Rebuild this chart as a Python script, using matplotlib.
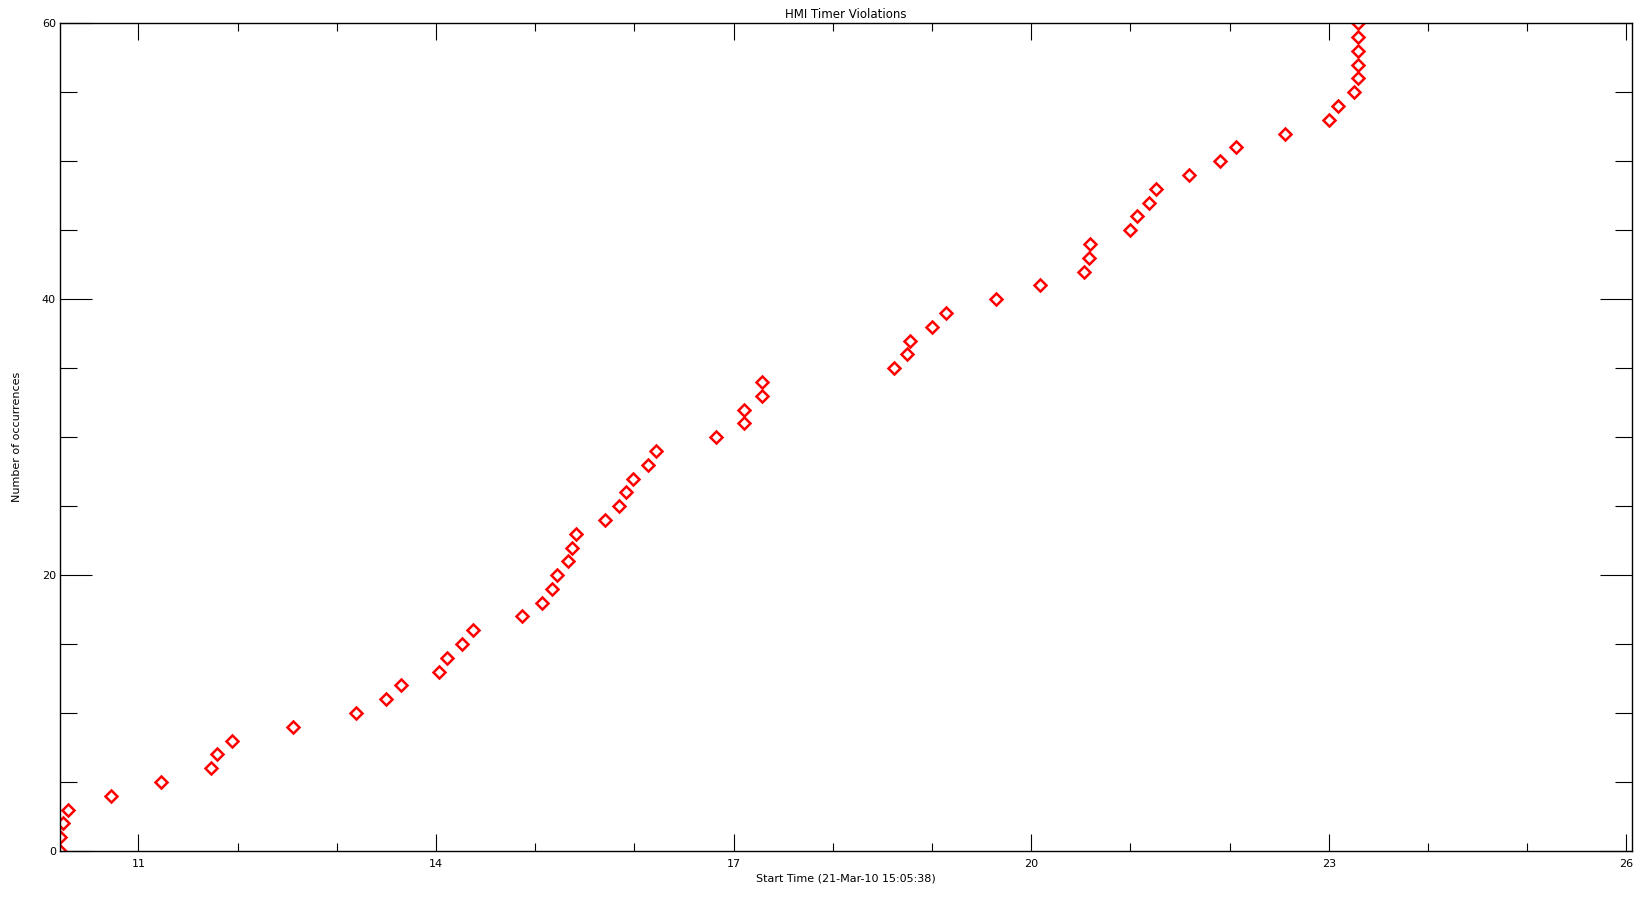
import matplotlib
matplotlib.use("Agg")
import matplotlib.pyplot as plt
from matplotlib.ticker import MultipleLocator

# start times (hours) of each timer violation
start_hours = [10.21, 10.21, 10.24, 10.29, 10.72, 11.23, 11.73, 11.79, 11.94, 12.56,
               13.19, 13.50, 13.65, 14.03, 14.11, 14.26, 14.37, 14.87, 15.07, 15.17,
               15.22, 15.33, 15.37, 15.41, 15.70, 15.84, 15.92, 15.99, 16.14, 16.22,
               16.82, 17.11, 17.11, 17.29, 17.29, 18.62, 18.75, 18.78, 19.00, 19.14,
               19.65, 20.09, 20.53, 20.58, 20.59, 21.00, 21.07, 21.19, 21.26, 21.59,
               21.90, 22.07, 22.56, 23.00, 23.09, 23.26, 23.30, 23.30, 23.30, 23.30,
               23.30]
occurrences = list(range(len(start_hours)))

x_major = [11, 14, 17, 20, 23, 26]
y_major = [0, 20, 40, 60]

plt.rcParams['font.family'] = ['DejaVu Sans']

fig = plt.figure(figsize=(16.5, 9), dpi=100)
ax = fig.add_axes([60 / 1650, 1 - 851 / 900, (1632 - 60) / 1650, (851 - 23.3) / 900])

ax.plot(start_hours, occurrences, linestyle='none', marker='D', markersize=6.4,
        markerfacecolor='none', markeredgecolor='red', markeredgewidth=1.8)

ax.set_xlim(10.209, 26.058)
ax.set_ylim(0, 60)
ax.set_xticks(x_major)
ax.set_yticks(y_major)
ax.xaxis.set_minor_locator(MultipleLocator(1))
ax.yaxis.set_minor_locator(MultipleLocator(5))

ax.tick_params(axis='x', which='major', direction='in', length=12.2, width=0.8,
               top=True, labelsize=8, pad=6)
ax.tick_params(axis='x', which='minor', direction='in', length=5.8, width=0.8, top=True)
ax.tick_params(axis='y', which='major', direction='in', length=23, width=0.8,
               right=True, labelsize=8, pad=3)
ax.tick_params(axis='y', which='minor', direction='in', length=12.2, width=0.8, right=True)
for s in ax.spines.values():
    s.set_linewidth(1.0)

ax.set_title('HMI Timer Violations', fontsize=8.5, pad=4)
ax.set_xlabel('Start Time (21-Mar-10 15:05:38)', fontsize=8, labelpad=3)
ax.set_ylabel('Number of occurrences', fontsize=8, labelpad=14)

fig.savefig('out.png', dpi=100)
